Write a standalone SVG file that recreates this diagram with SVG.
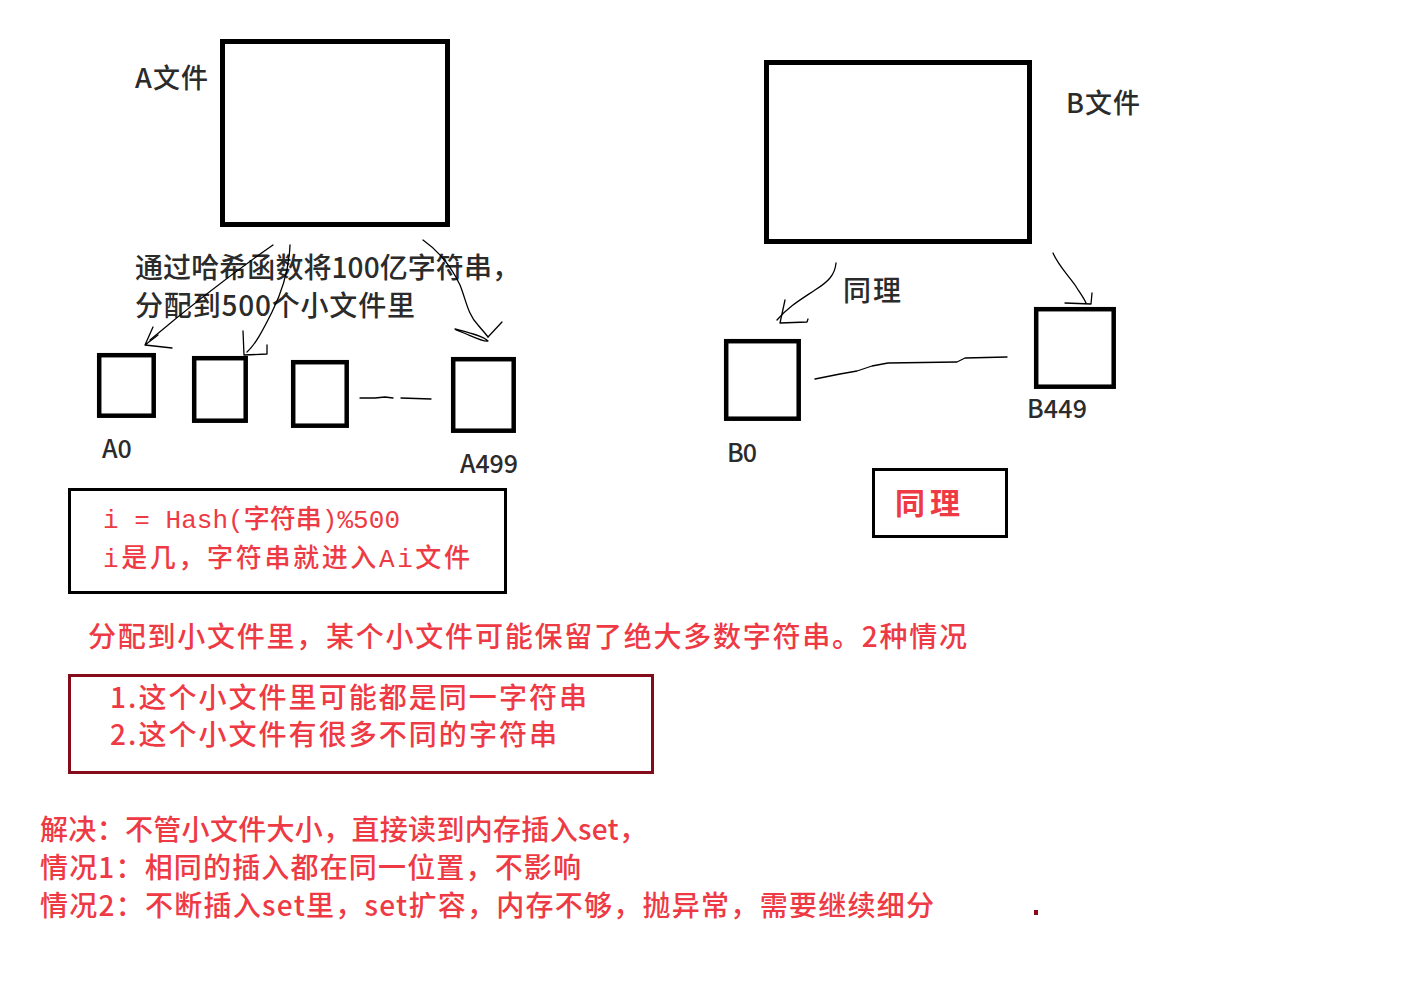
<svg xmlns="http://www.w3.org/2000/svg" width="1407" height="985" viewBox="0 0 1407 985">
<style>
.bigbox{fill:none;stroke:#000;stroke-width:5}
.smbox{fill:none;stroke:#000;stroke-width:4.5}
.lbl{font-family:"Noto Sans CJK SC","Noto Sans",sans-serif;fill:#2b2b2b;font-weight:500}
.red{font-family:"Noto Sans CJK SC","Noto Sans",sans-serif;fill:#ee3a44;font-weight:500}
.redb{font-family:"Noto Sans CJK SC","Noto Sans",sans-serif;fill:#ee3a44;font-weight:700}
.mono{font-family:"Liberation Mono","Noto Sans CJK SC",monospace;fill:#ee3a44;font-weight:500}
.hand{fill:none;stroke:#000;stroke-width:1.3;stroke-linecap:round;stroke-linejoin:round}
</style>
<rect width="1407" height="985" fill="#fff"/>

<g id="fileA">
<rect class="bigbox" x="222.5" y="41.5" width="225" height="183"/>
<text class="lbl" x="135" y="88" font-size="27" textLength="73">A文件</text>
</g>
<g id="fileB">
<rect class="bigbox" x="766.5" y="62.5" width="263" height="179"/>
<text class="lbl" x="1066" y="113" font-size="27" textLength="74">B文件</text>
</g>

<g id="hashNote">
<text class="lbl" x="135" y="278" font-size="28" textLength="385">通过哈希函数将100亿字符串，</text>
<text class="lbl" x="135" y="316" font-size="28" textLength="280">分配到500个小文件里</text>
</g>

<g id="A0">
<rect class="smbox" x="99.2" y="355.2" width="54.5" height="60.5"/>
<text class="lbl" x="102" y="458" font-size="25">A0</text>
</g>
<g id="A1">
<rect class="smbox" x="194.2" y="358.2" width="51.5" height="62.5"/>
</g>
<g id="A2">
<rect class="smbox" x="293.2" y="362.2" width="53.5" height="63.5"/>
</g>
<g id="A499">
<rect class="smbox" x="453.2" y="359.2" width="60.5" height="71.5"/>
<text class="lbl" x="460" y="473" font-size="25" textLength="58">A499</text>
</g>

<g id="B0">
<rect class="smbox" x="726.2" y="341.2" width="72.5" height="77.5"/>
<text class="lbl" x="727" y="462" font-size="25" textLength="30">B0</text>
</g>
<g id="B449">
<rect class="smbox" x="1036.2" y="309.2" width="77.5" height="77.5"/>
<text class="lbl" x="1027" y="418" font-size="25" textLength="60">B449</text>
</g>
<g id="sameLabel">
<text class="lbl" x="843" y="301" font-size="28" textLength="58">同理</text>
</g>

<g id="hashFormula">
<rect x="69.5" y="489.5" width="436" height="103" fill="none" stroke="#000" stroke-width="3"/>
<text class="mono" x="103" y="528" font-size="26" textLength="297" xml:space="preserve">i = Hash(字符串)%500</text>
<text class="mono" x="103" y="567" font-size="26" textLength="367">i是几，字符串就进入Ai文件</text>
</g>

<g id="sameBox">
<rect x="873.5" y="469.5" width="133" height="67" fill="none" stroke="#000" stroke-width="3"/>
<text class="redb" x="895" y="514" font-size="30" textLength="65">同理</text>
</g>

<g id="heading">
<text class="red" x="88" y="647" font-size="28" textLength="879">分配到小文件里，某个小文件可能保留了绝大多数字符串。2种情况</text>
</g>

<g id="cases">
<rect x="69.5" y="675.5" width="583" height="97" fill="none" stroke="#850a1a" stroke-width="3"/>
<text class="red" x="110" y="708" font-size="28" textLength="477">1.这个小文件里可能都是同一字符串</text>
<text class="red" x="110" y="745" font-size="28" textLength="447">2.这个小文件有很多不同的字符串</text>
</g>

<g id="solution">
<text class="red" x="40" y="840" font-size="28" textLength="607">解决：不管小文件大小，直接读到内存插入set，</text>
<text class="red" x="40" y="878" font-size="28" textLength="541">情况1：相同的插入都在同一位置，不影响</text>
<text class="red" x="40" y="916" font-size="28" textLength="894">情况2：不断插入set里，set扩容，内存不够，抛异常，需要继续细分</text>
<rect x="1034" y="910" width="4" height="5" fill="#8b0a1a"/>
</g>

<g id="connectors">
<path class="hand" d="M273,245 C240,268 200,298 150,340"/>
<path class="hand" d="M153,327 L145,345 L172,348 M145,345 L158,335"/>
<path class="hand" d="M290,245 C289,270 283,290 272,312 C262,332 255,345 247,352"/>
<path class="hand" d="M243,331 L244,355 L267,354 L267,345"/>
<path class="hand" d="M423,240 C440,252 452,268 460,285 C466,300 468,315 478,325 C482,330 486,334 488,337"/>
<path class="hand" d="M455,329 C470,333 483,336 488,341 C484,343 470,335 456,330 M488,337 L502,322"/>
<path class="hand" d="M360,398 L375,398 L385,397 L393,398 M401,398 L431,399"/>
<path class="hand" d="M836,263 C835,275 828,282 815,290 C800,300 788,307 777,320"/>
<path class="hand" d="M785,300 L780,323 L807,322 L808,319"/>
<path class="hand" d="M1053,253 C1058,265 1068,275 1075,285 C1080,293 1084,298 1086,303"/>
<path class="hand" d="M1065,303 L1091,304 L1092,293"/>
<path class="hand" d="M815,379 L840,374 L857,371 L872,366 L888,363 L957,362 L965,358 L1007,357"/>
</g>
</svg>
